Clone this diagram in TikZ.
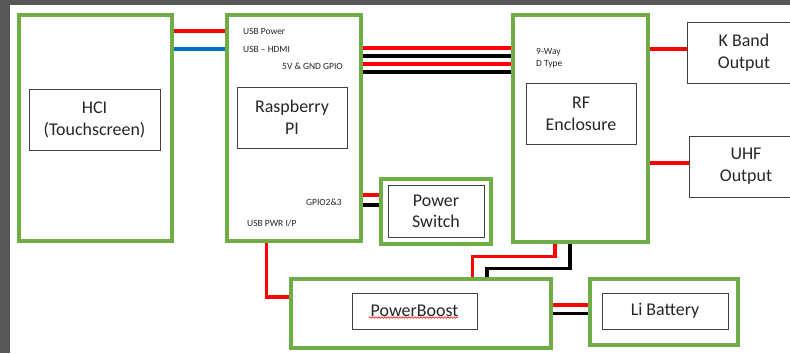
\documentclass[tikz,border=0pt]{standalone}
\usepackage{fontspec}
\setmainfont{Carlito}
\usetikzlibrary{
  positioning,
  backgrounds,
  decorations.pathmorphing
}
\definecolor{leaf}{HTML}{70AD47}
\definecolor{wirered}{HTML}{FF0000}
\definecolor{wireblue}{HTML}{0070C0}
\definecolor{edge}{HTML}{404040}
\definecolor{chrome}{HTML}{575757}

\begin{document}
\begin{tikzpicture}[
  x=1bp, y=-1bp,
  bay/.style={draw=leaf, line width=4bp, fill=white},
  box/.style={draw=edge, line width=0.8bp, fill=white, align=center, inner sep=0pt,
              text=black!85, font=\fontsize{18}{22}\selectfont},
  tag/.style={anchor=west, inner sep=0pt, align=left, text=black!85,
              font=\fontsize{9.5}{12}\selectfont},
  wire/.style={line width=3.5bp},
  squiggle/.style={draw=wirered, line width=0.6bp,
                   decorate, decoration={snake, amplitude=0.8bp, segment length=3bp}}
]
  \useasboundingbox (0,0) rectangle (790,353);
  \clip (0,0) rectangle (790,353);

  % Touchscreen
  \node[bay, minimum width=153bp, minimum height=226bp] (hciframe) at (95.5,128) {};
  \node[box, minimum width=131bp, minimum height=61bp] (hci) at (94.5,119.5) {HCI\\(Touchscreen)};

  % Raspberry PI
  \node[bay, minimum width=134.5bp, minimum height=226bp] (rpiframe) at (293.75,128) {};
  \node[box, minimum width=110bp, minimum height=61bp] (rpi) at (292,117.5) {Raspberry\\PI};
  \node[tag] (usbpower) at (243,31) {USB Power};
  \node[tag] (usbhdmi) at (243,49) {USB -- HDMI};
  \node[tag] (gpio) at (282,66) {5V \& GND GPIO};
  \node[tag] (gpiosw) at (306,202) {GPIO2\&3};
  \node[tag] (usbpwr) at (247,223) {USB PWR I/P};

  % RF enclosure
  \node[bay, minimum width=135bp, minimum height=227bp] (rfframe) at (580.5,128.5) {};
  \node[box, minimum width=110bp, minimum height=61bp] (rf) at (581,113.5) {RF\\Enclosure};
  \node[tag] (dtype) at (536,58) {9-Way\\D Type};

  % Outputs
  \node[box, minimum width=114bp, minimum height=61bp] (kband) at (744,52.5) {K Band\\Output};
  \node[box, minimum width=114bp, minimum height=61bp] (uhf) at (746,166.5) {UHF\\Output};

  % Power switch
  \node[bay, minimum width=110bp, minimum height=65bp] (psframe) at (436,211.5) {};
  \node[box, minimum width=96bp, minimum height=52bp, font=\fontsize{18}{21}\selectfont]
    (ps) at (436,211) {Power\\Switch};

  % PowerBoost and battery
  \node[bay, minimum width=260bp, minimum height=69bp] (pbframe) at (421,313.5) {};
  \node[box, minimum width=125bp, minimum height=36bp] (pb) at (414.5,311) {PowerBoost};
  \draw[squiggle] (369,317.5) -- (458,317.5);
  \node[bay, minimum width=148bp, minimum height=66bp] (lbframe) at (664,312) {};
  \node[box, minimum width=126bp, minimum height=36bp] (lb) at (665,311) {Li Battery};

  \begin{scope}[on background layer]
    \fill[white] (0,0) rectangle (790,353);
    \fill[chrome] (0,0) rectangle (790,5);
    \fill[chrome] (0,0) rectangle (10,353);

    % wiring
    \draw[wire, wirered] (hciframe.east |- 0,31) -- (rpiframe.west |- 0,31);
    \draw[wire, wireblue] (hciframe.east |- 0,49) -- (rpiframe.west |- 0,49);
    \foreach \y/\c in {48/wirered, 56/black, 64/wirered, 72/black}
      \draw[wire, \c] (rpiframe.east |- 0,\y) -- (rfframe.west |- 0,\y);
    \draw[wire, wirered] (rfframe.east |- 0,49) -- (kband.west |- 0,49);
    \draw[wire, wirered] (rfframe.east |- 0,163) -- (uhf.west |- 0,163);
    \draw[wire, wirered] (rpiframe.east |- 0,195) -- (psframe.west |- 0,195);
    \draw[wire, black] (rpiframe.east |- 0,205) -- (psframe.west |- 0,205);
    \draw[wire, wirered] (rpiframe.south -| 266.5,0) |- (pbframe.west |- 0,297);
    \draw[wire, wirered] (rfframe.south -| 555,0) -- ++(0,12.5) -| (pbframe.north -| 472.5,0);
    \draw[wire, black] (rfframe.south -| 570,0) -- ++(0,24.5) -| (pbframe.north -| 487,0);
    \draw[wire, wirered] (pbframe.east |- 0,305) -- (lbframe.west |- 0,305);
    \draw[wire, black] (pbframe.east |- 0,313.5) -- (lbframe.west |- 0,313.5);
  \end{scope}
\end{tikzpicture}
\end{document}
